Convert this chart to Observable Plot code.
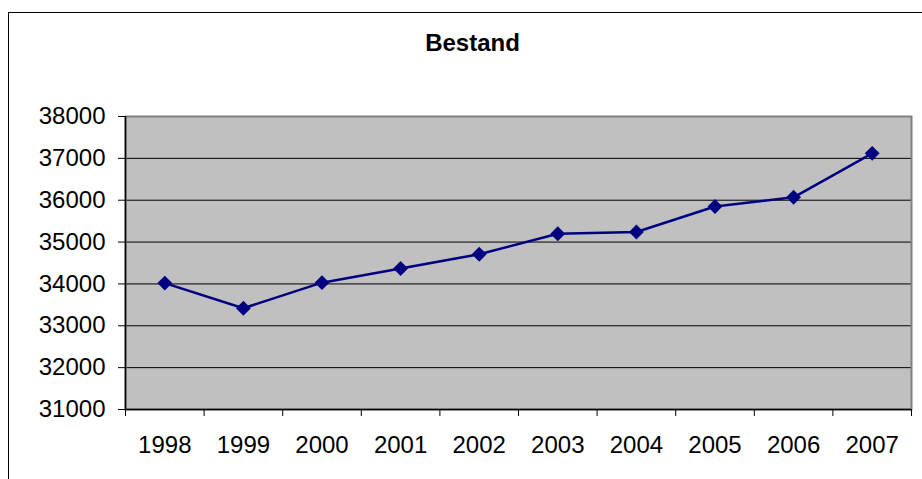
<!DOCTYPE html>
<html>
<head>
<meta charset="utf-8">
<script src="https://cdn.jsdelivr.net/npm/d3@7"></script>
<script src="https://cdn.jsdelivr.net/npm/@observablehq/plot@0.6"></script>
<style>
  html, body { margin: 0; padding: 0; background: white; }
  #wrap { position: relative; width: 922px; height: 479px; overflow: hidden; }
  #border { position: absolute; left: 8px; top: 12px; width: 1000px; height: 1000px; border: 1px solid #000; }
  #chart { position: absolute; left: 0; top: 0; }
</style>
</head>
<body>
<div id="wrap"><div id="border"></div><div id="chart"></div></div>
<script>
// Bestand per year
const years = [1998, 1999, 2000, 2001, 2002, 2003, 2004, 2005, 2006, 2007];
const bestand = [34020, 33420, 34030, 34370, 34710, 35200, 35240, 35850, 36070, 37120];
const yTicks = [31000, 32000, 33000, 34000, 35000, 36000, 37000, 38000];
const title = "Bestand";

const data = years.map((year, i) => ({year, value: bestand[i]}));
// category boundaries, half a year either side of each label
const boundaries = [years[0] - 0.5, ...years.map(y => y + 0.5)];
const yMin = yTicks[0], yMax = yTicks[yTicks.length - 1];

const chart = Plot.plot({
  width: 922,
  height: 479,
  marginLeft: 125,
  marginRight: 11,
  marginTop: 116,
  marginBottom: 70,
  style: {
    fontFamily: "'Liberation Sans', Arial, sans-serif",
    fontSize: "24px",
    color: "black",
    background: "transparent",
    overflow: "visible"
  },
  x: {domain: [boundaries[0], boundaries[boundaries.length - 1]]},
  y: {domain: [yMin, yMax]},
  marks: [
    Plot.frame({fill: "#c0c0c0", stroke: null}),
    Plot.ruleY(yTicks.slice(1, -1), {stroke: "black", strokeWidth: 1}),
    Plot.frame({stroke: "#808080", strokeWidth: 2}),
    Plot.ruleX([boundaries[0]], {stroke: "black", strokeWidth: 1.5}),
    Plot.ruleY([yMin], {stroke: "black", strokeWidth: 1.5}),
    Plot.axisY({ticks: yTicks, tickSize: 7, tickPadding: 13, tickFormat: d => String(d), label: null, stroke: "black", strokeOpacity: 1, fill: "black"}),
    Plot.axisX({ticks: boundaries, tickSize: 7, tickFormat: () => "", label: null, stroke: "black", strokeOpacity: 1}),
    Plot.axisX({ticks: years, tickSize: 0, tickPadding: 26, tickFormat: d => String(d), label: null, fill: "black"}),
    Plot.line(data, {x: "year", y: "value", stroke: "#000080", strokeWidth: 2.5}),
    Plot.dot(data, {x: "year", y: "value", symbol: "diamond2", r: 6.7, fill: "#000080", stroke: "none"}),
    Plot.text([title], {frameAnchor: "top", lineAnchor: "middle", dx: -46, dy: -73, fontWeight: "bold", fontSize: 24, fill: "black"})
  ]
});

document.getElementById("chart").appendChild(chart);
</script>
</body>
</html>
